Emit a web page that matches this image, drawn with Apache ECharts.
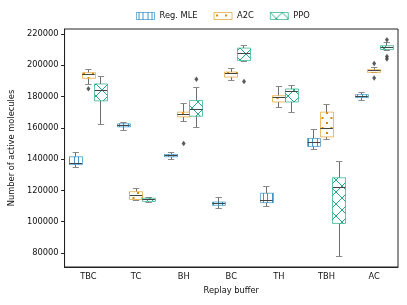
<!DOCTYPE html>
<html><head><meta charset="utf-8">
<script src="https://cdn.jsdelivr.net/npm/echarts@6/dist/echarts.min.js"></script>
<style>html,body{margin:0;padding:0;background:#fff}#c{width:407px;height:305px}</style>
</head><body><div id="c"></div>
<script>
// ---- data ----
const categories = ['TBC','TC','BH','BC','TH','TBH','AC'];
const seriesNames = ['Reg. MLE','A2C','PPO'];
// [min, Q1, median, Q3, max] per category
const regMLE = [
  [134500,136500,137000,141500,144000],
  [158300,160600,161600,162600,163200],
  [139500,141500,142300,143000,144000],
  [108600,110500,111600,112600,115200],
  [109700,112200,113700,118200,122200],
  [146200,148100,150400,153200,159000],
  [177400,179300,180100,181200,182300]
];
const a2c = [
  [187700,191600,193800,195200,197500],
  [113700,114200,116500,119200,121100],
  [164200,167000,168500,170000,175500],
  [189900,192400,194800,195600,197900],
  [172700,176500,179500,180500,186500],
  [152500,154200,159500,170000,174800],
  [195000,195400,196300,197100,198200]
];
const ppo = [
  [162000,177200,183700,188000,193000],
  [112300,113000,114000,115000,115600],
  [160000,167400,172000,177400,185500],
  [202200,203000,207300,210900,212800],
  [169500,176500,183000,184800,187000],
  [78000,98900,121800,128100,138300],
  [209600,210000,211300,212400,214500]
];
// outliers: [category index, value]
const regMLEOutliers = [];
const a2cOutliers = [[0,185000],[2,150000],[6,201000],[6,191800]];
const ppoOutliers = [[2,191000],[3,189600],[6,216200],[6,205600],[6,204000]];
const yTicks = [80000,100000,120000,140000,160000,180000,200000,220000];

// ---- styling ----
const FONT = 'DejaVu Sans';
const FS = 8.3;
const GRID = {left:61, right:9, top:29, bottom:38};
const OFF = 0.2646; // fraction of band per group offset
const BOXW = 0.2646;

function makePattern(w,h,draw){
  const c=document.createElement('canvas'); c.width=w; c.height=h;
  const ctx=c.getContext('2d'); draw(ctx);
  return {image:c, repeat:'repeat'};
}
const blueP = makePattern(9,4,ctx=>{ctx.fillStyle='rgba(1,115,178,0.75)';ctx.fillRect(2,0,1,4);ctx.fillRect(6,0,1,4);});
const orangeP = makePattern(9,10,ctx=>{ctx.fillStyle='#d98a06';ctx.fillRect(2,2,2,2);ctx.fillRect(6.5,7,2,2);});
const greenP = makePattern(12,12,ctx=>{ctx.strokeStyle='rgba(2,158,115,0.85)';ctx.lineWidth=1;
  ctx.beginPath();ctx.moveTo(-1,-1);ctx.lineTo(13,13);ctx.moveTo(13,-1);ctx.lineTo(-1,13);ctx.stroke();});

const groups = [
  {name:seriesNames[0], data:regMLE, out:regMLEOutliers, pat:blueP, border:'rgba(1,115,178,0.55)', off:-OFF},
  {name:seriesNames[1], data:a2c, out:a2cOutliers, pat:orangeP, border:'rgba(222,143,5,0.6)', off:0},
  {name:seriesNames[2], data:ppo, out:ppoOutliers, pat:greenP, border:'rgba(2,158,115,0.6)', off:OFF}
];

function px(v){return Math.round(v-0.5)+0.5;}

function makeRender(g){
  return function(params, api){
    const cat = api.value(0);
    const band = api.size([1,0])[0];
    const w = band*BOXW;
    const cx = api.coord([cat,0])[0] + g.off*band;
    const yMin = api.coord([cat,api.value(1)])[1];
    const yQ1 = api.coord([cat,api.value(2)])[1];
    const yMed = api.coord([cat,api.value(3)])[1];
    const yQ3 = api.coord([cat,api.value(4)])[1];
    const yMax = api.coord([cat,api.value(5)])[1];
    const xc = px(cx);
    const l = cx-w/2, r = cx+w/2;
    const cw = w/4;
    const wh = {stroke:'#6e6e6e', lineWidth:1};
    return {type:'group', children:[
      {type:'line', shape:{x1:xc,y1:yQ1,x2:xc,y2:yMin}, style:wh},
      {type:'line', shape:{x1:xc,y1:yQ3,x2:xc,y2:yMax}, style:wh},
      {type:'line', shape:{x1:cx-cw,y1:px(yMin),x2:cx+cw,y2:px(yMin)}, style:{stroke:'#8a8a8a',lineWidth:1}},
      {type:'line', shape:{x1:cx-cw,y1:px(yMax),x2:cx+cw,y2:px(yMax)}, style:{stroke:'#8a8a8a',lineWidth:1}},
      {type:'rect', shape:{x:px(l),y:yQ3,width:Math.round(w),height:yQ1-yQ3}, style:{fill:'#fff',stroke:null}},
      {type:'rect', shape:{x:px(l),y:yQ3,width:Math.round(w),height:yQ1-yQ3}, style:{fill:g.pat,stroke:g.border,lineWidth:1}},
      {type:'line', shape:{x1:l,y1:px(yMed),x2:r,y2:px(yMed)}, style:{stroke:'#454545',lineWidth:1}}
    ]};
  };
}

const chart = echarts.init(document.getElementById('c'), null, {renderer:'canvas'});
const bandPx = (407-GRID.left-GRID.right)/categories.length;

const series = [];
groups.forEach(g=>{
  series.push({
    type:'custom', name:g.name,
    itemStyle:{color:g.border},
    renderItem:makeRender(g),
    encode:{x:0, y:[1,2,3,4,5]},
    data:g.data.map((d,i)=>[i].concat(d)),
    clip:false, z:2
  });
});
groups.forEach(g=>{
  series.push({
    type:'scatter', name:g.name+' outliers',
    symbol:'diamond', symbolSize:[4,5.5],
    symbolOffset:[g.off*bandPx,0],
    itemStyle:{color:'#333'},
    data:g.out, z:3, silent:true
  });
});

chart.setOption({
  animation:false,
  textStyle:{fontFamily:FONT},
  grid:{left:GRID.left,right:GRID.right,top:GRID.top,bottom:GRID.bottom,show:true,borderColor:'#222',borderWidth:1},
  legend:{
    left:131, top:7, itemWidth:18, itemHeight:7, itemGap:16,
    textStyle:{fontFamily:FONT,fontSize:FS,color:'#111'},
    data:groups.map(g=>({name:g.name, icon:'rect', itemStyle:{color:g.pat,borderColor:g.border,borderWidth:1}}))
  },
  xAxis:{
    type:'category', data:categories, boundaryGap:true,
    name:'Replay buffer', nameLocation:'middle', nameGap:20,
    nameTextStyle:{fontFamily:FONT,fontSize:FS,color:'#111'},
    axisLine:{lineStyle:{color:'#222',width:1}},
    axisTick:{alignWithLabel:true,interval:0,length:3.5,lineStyle:{color:'#222'}},
    axisLabel:{interval:0,fontFamily:FONT,fontSize:FS,color:'#111',margin:6},
    splitLine:{show:false}
  },
  yAxis:{
    type:'value', min:71100, max:223100,
    name:'Number of active molecules', nameLocation:'middle', nameGap:48,
    nameTextStyle:{fontFamily:FONT,fontSize:FS,color:'#111'},
    axisLine:{show:true,lineStyle:{color:'#222',width:1}},
    axisTick:{show:true,length:3.5,customValues:yTicks,lineStyle:{color:'#222'}},
    axisLabel:{customValues:yTicks,formatter:v=>String(v),fontFamily:FONT,fontSize:FS,color:'#111',margin:6},
    splitLine:{show:false}
  },
  series:series
});
</script></body></html>
